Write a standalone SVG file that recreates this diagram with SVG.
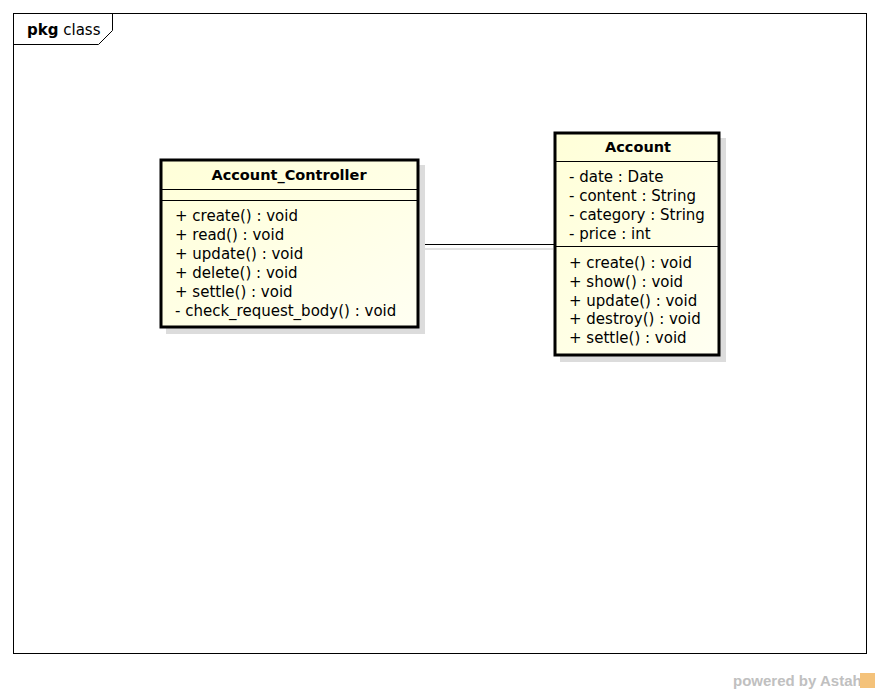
<svg xmlns="http://www.w3.org/2000/svg" width="880" height="693" viewBox="0 0 880 693">
<defs>
<linearGradient id="fill" x1="0" y1="0" x2="1" y2="1">
<stop offset="0" stop-color="#FFFFD8"/>
<stop offset="1" stop-color="#FFFFF2"/>
</linearGradient>
<style>
.frame{fill:none;stroke:#000;stroke-width:1}
.box{fill:url(#fill);stroke:#000;stroke-width:3}
.shadow{fill:#DCDCDC}
.sep{stroke:#000;stroke-width:1.2}
.t{font-family:"DejaVu Sans",sans-serif;font-size:15px;fill:#000}
.title{font-family:"DejaVu Sans",sans-serif;font-size:14.5px;font-weight:bold;fill:#000}
.conn{stroke:#000;stroke-width:1.2;fill:none}
.connsh{stroke:#D8D8D8;stroke-width:1.5;fill:none}
</style>
</defs>
<rect width="880" height="693" fill="#fff"/>
<g id="frame">
<rect class="frame" x="13.5" y="13.5" width="853" height="640"/>
<path class="frame" d="M13.5,44.5 H98.5 L112.5,30.5 V13.5"/>
<text x="27" y="35" style="font-family:'DejaVu Sans',sans-serif;font-size:15px;fill:#000"><tspan font-weight="bold">pkg</tspan> class</text>
</g>
<g id="connectors">
<line class="connsh" x1="422" y1="249" x2="553" y2="249"/>
<line class="conn" x1="419" y1="244.5" x2="554" y2="244.5"/>
</g>
<g id="Account_Controller">
<rect class="shadow" x="166" y="165" width="259" height="169"/>
<rect class="box" x="161" y="160" width="257" height="167"/>
<line class="sep" x1="161" y1="189.5" x2="418" y2="189.5"/>
<line class="sep" x1="161" y1="200.5" x2="418" y2="200.5"/>
<text class="title" x="289" y="180" text-anchor="middle">Account_Controller</text>
<text class="t" x="175" y="221">+ create() : void</text>
<text class="t" x="175" y="240">+ read() : void</text>
<text class="t" x="175" y="259">+ update() : void</text>
<text class="t" x="175" y="278">+ delete() : void</text>
<text class="t" x="175" y="297">+ settle() : void</text>
<text class="t" x="175" y="316">- check_request_body() : void</text>
</g>
<g id="Account">
<rect class="shadow" x="560" y="138" width="166" height="224"/>
<rect class="box" x="555" y="133" width="164" height="222"/>
<line class="sep" x1="555" y1="161.5" x2="719" y2="161.5"/>
<line class="sep" x1="555" y1="246.5" x2="719" y2="246.5"/>
<text class="title" x="638" y="152" text-anchor="middle">Account</text>
<text class="t" x="569" y="182">- date : Date</text>
<text class="t" x="569" y="201">- content : String</text>
<text class="t" x="569" y="220">- category : String</text>
<text class="t" x="569" y="239">- price : int</text>
<text class="t" x="569" y="268">+ create() : void</text>
<text class="t" x="569" y="287">+ show() : void</text>
<text class="t" x="569" y="306">+ update() : void</text>
<text class="t" x="569" y="324">+ destroy() : void</text>
<text class="t" x="569" y="343">+ settle() : void</text>
</g>
<text x="733" y="686" style="font-family:'Liberation Sans',sans-serif;font-size:15px;font-weight:bold;fill:#C0C0C0">powered by Astah</text>
<rect x="860" y="673" width="15" height="15" fill="#F4C27A"/>
</svg>
